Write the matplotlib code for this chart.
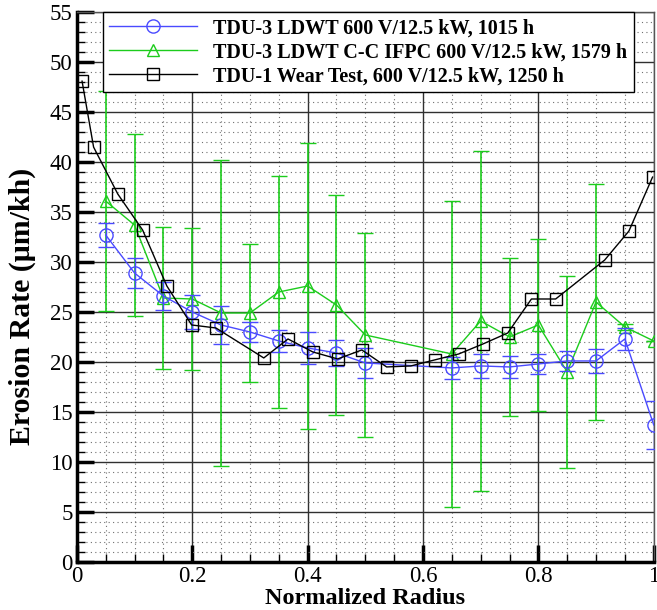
import numpy as np
import matplotlib
matplotlib.use("Agg")
import matplotlib.pyplot as plt
from matplotlib.ticker import MultipleLocator
from matplotlib.lines import Line2D

plt.rcParams['font.family'] = ['Liberation Serif', 'DejaVu Serif']

# TDU-3 LDWT 600 V/12.5 kW, 1015 h
r_blue = [0.05, 0.10, 0.15, 0.20, 0.25, 0.30, 0.35, 0.40, 0.45, 0.50,
          0.65, 0.70, 0.75, 0.80, 0.85, 0.90, 0.95, 1.00]
er_blue = [32.7, 28.9, 26.6, 25.0, 23.7, 23.0, 22.1, 21.4, 20.9, 19.9,
           19.4, 19.6, 19.5, 19.8, 20.1, 20.1, 22.3, 13.7]
err_blue = [1.2, 1.5, 1.4, 1.7, 1.9, 1.0, 1.1, 1.6, 1.3, 1.5,
            1.1, 1.2, 1.1, 1.0, 1.0, 1.2, 1.1, 2.4]

# TDU-3 LDWT C-C IFPC 600 V/12.5 kW, 1579 h
r_green = [0.05, 0.10, 0.15, 0.20, 0.25, 0.30, 0.35, 0.40, 0.45, 0.50,
           0.65, 0.70, 0.75, 0.80, 0.85, 0.90, 0.95, 1.00]
er_green = [36.1, 33.7, 26.4, 26.3, 24.9, 24.9, 27.0, 27.6, 25.7, 22.7,
            20.8, 24.1, 22.5, 23.7, 19.0, 26.0, 23.5, 22.1]
err_green = [11.0, 9.1, 7.1, 7.1, 15.3, 6.9, 11.6, 14.3, 11.0, 10.2,
             15.3, 17.0, 7.9, 8.6, 9.6, 11.8, 0.3, 0.0]

# TDU-1 Wear Test, 600 V/12.5 kW, 1250 h
r_black = [0.009, 0.029, 0.071, 0.114, 0.156, 0.199, 0.241, 0.324, 0.366,
           0.409, 0.452, 0.494, 0.537, 0.579, 0.620, 0.662, 0.704, 0.747,
           0.788, 0.830, 0.915, 0.957, 0.998]
er_black = [48.1, 41.5, 36.8, 33.2, 27.6, 23.7, 23.4, 20.4, 22.3,
            21.0, 20.3, 21.2, 19.5, 19.6, 20.2, 20.8, 21.8, 22.9,
            26.3, 26.3, 30.2, 33.1, 38.5]

labels = ["TDU-3 LDWT 600 V/12.5 kW, 1015 h",
          "TDU-3 LDWT C-C IFPC 600 V/12.5 kW, 1579 h",
          "TDU-1 Wear Test, 600 V/12.5 kW, 1250 h"]

blue = '#4a4aff'
green = '#1ccc1c'

fig = plt.figure(figsize=(6.57, 6.10), dpi=100)
ax = fig.add_axes([0.117, 0.079, 0.878, 0.901])

ax.errorbar(r_blue, er_blue, yerr=err_blue, color=blue, lw=1, marker='o',
            ms=9.5, mfc='none', mec=blue, capsize=6, elinewidth=1, zorder=4)
ax.errorbar(r_green, er_green, yerr=err_green, color=green, lw=1, marker='^',
            ms=8.5, mfc='none', mec=green, capsize=6, elinewidth=1.2, zorder=3)
ax.plot(r_black, er_black, color='black', lw=1, marker='s', ms=8,
        mfc='none', mec='black', zorder=5)

ax.set_xlim(0, 1)
ax.set_ylim(0, 55)
ax.set_xticks(np.arange(0, 1.01, 0.2))
ax.set_xticklabels(['0', '0.2', '0.4', '0.6', '0.8', '1'])
ax.xaxis.set_minor_locator(MultipleLocator(0.05))
ax.yaxis.set_major_locator(MultipleLocator(5))
ax.yaxis.set_minor_locator(MultipleLocator(1))

ax.grid(which='major', color='#303030', lw=1, ls='-', zorder=0)
ax.grid(which='minor', color='#707070', lw=0.8, ls=(0, (1, 3)), zorder=0)
ax.set_axisbelow(True)

ax.tick_params(which='major', direction='in', length=12, width=2.5,
               labelsize=16.5, top=False, right=False, pad=3)
ax.tick_params(which='minor', direction='in', length=6, width=1,
               top=False, right=False)

for s in ['left', 'bottom']:
    ax.spines[s].set_linewidth(2.5)
for s in ['top', 'right']:
    ax.spines[s].set_linewidth(1)
    ax.spines[s].set_color('#555555')

ax.set_xlabel('Normalized Radius', fontsize=17.5, fontweight='bold')
ax.xaxis.set_label_coords(0.5, -0.047)
ax.set_ylabel('Erosion Rate (\u03bcm/kh)', fontsize=21.5, fontweight='bold')
ax.yaxis.set_label_coords(-0.07, 0.465)

handles = [Line2D([], [], color=blue, lw=1, marker='o', ms=9.5, mfc='none'),
           Line2D([], [], color=green, lw=1, marker='^', ms=8.5, mfc='none'),
           Line2D([], [], color='black', lw=1, marker='s', ms=8, mfc='none')]
leg = ax.legend(handles, labels, loc='upper right', bbox_to_anchor=(0.965, 1.0),
                prop={'weight': 'bold', 'size': 14.5}, frameon=True,
                fancybox=False, framealpha=1, edgecolor='black',
                handlelength=4.4, labelspacing=0.2, borderpad=0.3,
                handletextpad=0.8, borderaxespad=0)
leg.get_frame().set_linewidth(1)

fig.savefig('out.png', dpi=100)
